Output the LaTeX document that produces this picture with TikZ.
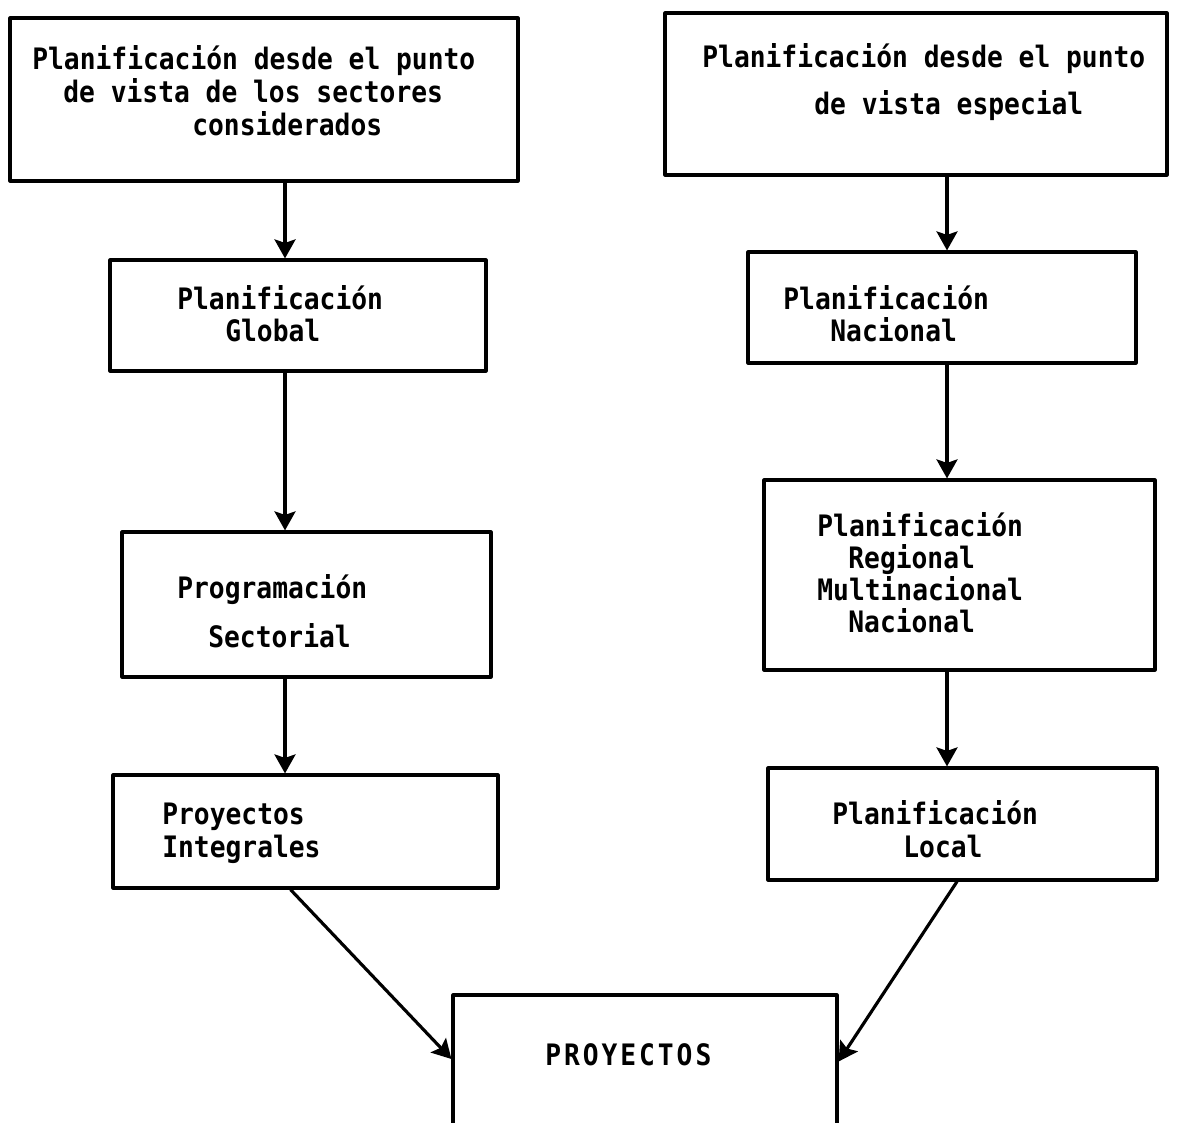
\documentclass[tikz,border=0pt]{standalone}
\usepackage{fontspec}
\newfontfamily\typer[FakeStretch=0.89]{DejaVu Sans Mono}
\usetikzlibrary{arrows.meta,fit}
\tikzset{
  box/.style={draw, line width=1.8pt, inner sep=0pt, line join=round},
  txt/.style={anchor=base west, inner sep=0pt, font=\typer\bfseries\fontsize{16.8}{20}\selectfont},
  arr/.style={line width=1.8pt, -{Stealth[length=3.8mm,width=4.2mm,inset=0.7mm]}},
}
\begin{document}
\begin{tikzpicture}[x=0.2mm,y=-0.2mm]
  \useasboundingbox (0,0) rectangle (1190,1122);
  % boxes
  \node[box, fit={(10,18) (518,181)}] (tl) {};
  \node[box, fit={(665,13) (1167,175)}] (tr) {};
  \node[box, fit={(110,260) (486,371)}] (glo) {};
  \node[box, fit={(748,252) (1136,363)}] (nac) {};
  \node[box, fit={(122,532) (491,677)}] (prog) {};
  \node[box, fit={(764,480) (1155,670)}] (reg) {};
  \node[box, fit={(113,775) (498,888)}] (pi) {};
  \node[box, fit={(768,768) (1157,880)}] (loc) {};
  \node[box, fit={(453,995) (837,1128)}] (proy) {};
  % texts
  \node[txt] (tl1) at (32,70) {Planificación desde el punto};
  \node[txt] (tl2) at (63,103) {de vista de los sectores};
  \node[txt] (tl3) at (192,136) {considerados};
  \node[txt] (tr1) at (702,68) {Planificación desde el punto};
  \node[txt] (tr2) at (814,115) {de vista especial};
  \node[txt] (glo1) at (177,310) {Planificación};
  \node[txt] (glo2) at (225,342) {Global};
  \node[txt] (nac1) at (783,310) {Planificación};
  \node[txt] (nac2) at (830,342) {Nacional};
  \node[txt] (prog1) at (177,598) {Programación};
  \node[txt] (prog2) at (208,647) {Sectorial};
  \node[txt] (reg1) at (817,536) {Planificación};
  \node[txt] (reg2) at (848,568) {Regional};
  \node[txt] (reg3) at (817,600) {Multinacional};
  \node[txt] (reg4) at (848,632) {Nacional};
  \node[txt] (pi1) at (162,824) {Proyectos};
  \node[txt] (pi2) at (162,857) {Integrales};
  \node[txt] (loc1) at (832,824) {Planificación};
  \node[txt] (loc2) at (903,857) {Local};
  \node[txt, font=\typer\bfseries\fontsize{16.8}{20}\selectfont\addfontfeature{LetterSpace=10}] (proy1) at (545,1065) {PROYECTOS};
  % connectors
  \coordinate (lx) at (285,0);
  \coordinate (rx) at (947,0);
  \draw[arr] (tl.south -| lx) -- (glo.north -| lx);
  \draw[arr] (glo.south -| lx) -- (prog.north -| lx);
  \draw[arr] (prog.south -| lx) -- (pi.north -| lx);
  \draw[arr] (tr.south -| rx) -- (nac.north -| rx);
  \draw[arr] (nac.south -| rx) -- (reg.north -| rx);
  \draw[arr] (reg.south -| rx) -- (loc.north -| rx);
  \draw[arr] ([xshift=-3mm]pi.south) -- ([yshift=0.5mm]proy.west);
  \draw[arr] ([xshift=-1.1mm]loc.south) -- ([yshift=0mm]proy.east);
\end{tikzpicture}
\end{document}
